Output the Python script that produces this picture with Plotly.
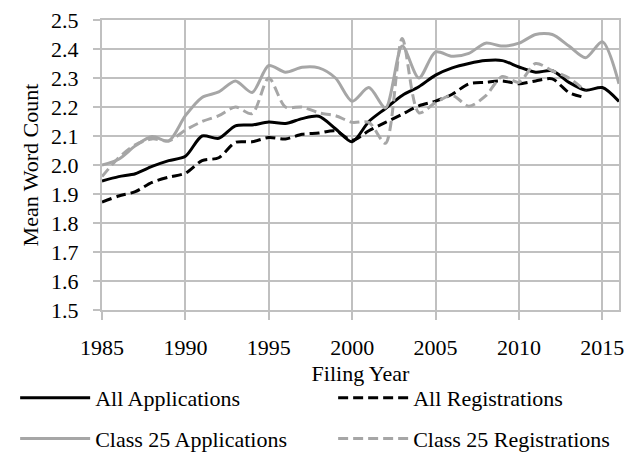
import plotly.graph_objects as go

years_all = list(range(1985, 2017))
years_reg = list(range(1985, 2015))

all_app = [1.945, 1.960, 1.970, 1.995, 2.015, 2.030, 2.100, 2.092, 2.135, 2.138,
           2.148, 2.143, 2.160, 2.168, 2.125, 2.080, 2.150, 2.195, 2.240, 2.270,
           2.310, 2.335, 2.350, 2.360, 2.360, 2.338, 2.320, 2.325, 2.285, 2.258,
           2.267, 2.219]
all_reg = [1.872, 1.893, 1.908, 1.940, 1.958, 1.972, 2.015, 2.025, 2.078, 2.080,
           2.095, 2.090, 2.106, 2.110, 2.118, 2.085, 2.118, 2.147, 2.175, 2.204,
           2.220, 2.244, 2.280, 2.285, 2.290, 2.280, 2.290, 2.297, 2.250, 2.232]
c25_app = [2.000, 2.020, 2.066, 2.098, 2.083, 2.170, 2.233, 2.252, 2.290, 2.250,
           2.343, 2.320, 2.337, 2.335, 2.300, 2.220, 2.267, 2.197, 2.410, 2.300,
           2.390, 2.375, 2.385, 2.420, 2.410, 2.420, 2.450, 2.450, 2.410, 2.370,
           2.425, 2.280]
c25_reg = [1.960, 2.025, 2.070, 2.090, 2.083, 2.120, 2.150, 2.170, 2.200, 2.177,
           2.300, 2.200, 2.200, 2.180, 2.170, 2.147, 2.147, 2.075, 2.436, 2.180,
           2.215, 2.240, 2.203, 2.238, 2.305, 2.285, 2.350, 2.325, 2.300, 2.255]

names = ["All Applications", "All Registrations",
         "Class 25 Applications", "Class 25 Registrations"]
x_ticks = [1985, 1990, 1995, 2000, 2005, 2010, 2015]

FONT = "Liberation Serif"
FS = 22
BLACK = "#000000"
GRAY = "#A6A6A6"
GRID = "#C0C0C0"
DASH = "10px,5px"

fig = go.Figure()
series = [
    (years_all, all_app, names[0], BLACK, "solid", "legend", 233),
    (years_reg, all_reg, names[1], BLACK, DASH, "legend", 205),
    (years_all, c25_app, names[2], GRAY, "solid", "legend2", 233),
    (years_reg, c25_reg, names[3], GRAY, DASH, "legend2", 205),
]
for xs, ys, nm, col, dash, lg, lw in series:
    fig.add_trace(go.Scatter(
        x=xs, y=ys, name=nm, mode="lines", legend=lg, legendwidth=lw,
        line=dict(color=col, width=3, dash=dash, shape="spline", smoothing=0.8),
    ))

tfont = dict(family=FONT, size=FS, color="#000")
common_legend = dict(orientation="h", xanchor="left", yanchor="middle",
                     font=tfont, itemwidth=70, entrywidthmode="pixels",
                     bgcolor="rgba(0,0,0,0)", borderwidth=0, itemclick=False)

fig.update_layout(
    width=640, height=453,
    margin=dict(l=94, r=29, t=12, b=151, autoexpand=False),
    paper_bgcolor="white", plot_bgcolor="white",
    font=tfont,
    legend=dict(x=-0.168, y=-0.303, **common_legend),
    legend2=dict(x=-0.168, y=-0.444, **common_legend),
    xaxis=dict(
        range=[1985, 2016], tickvals=x_ticks, ticktext=[str(v) for v in x_ticks],
        showgrid=True, gridcolor=GRID, gridwidth=2,
        showline=True, linecolor=GRID, linewidth=2, mirror=True,
        ticks="outside", ticklen=8, tickcolor=GRID, tickwidth=2,
        ticklabelstandoff=9, ticklabeloverflow="allow",
        tickfont=tfont,
        title=dict(text="Filing Year", font=tfont, standoff=6),
        zeroline=False, automargin=False,
    ),
    yaxis=dict(
        range=[1.5, 2.5], dtick=0.1, tick0=1.5, tickformat=".1f",
        showgrid=True, gridcolor=GRID, gridwidth=2,
        showline=True, linecolor=GRID, linewidth=2, mirror=True,
        ticks="outside", ticklen=7, tickcolor=GRID, tickwidth=2,
        ticklabelstandoff=10, ticklabeloverflow="allow",
        tickfont=tfont,
        title=dict(text="Mean Word Count", font=tfont, standoff=6),
        zeroline=False, automargin=False,
    ),
)

fig.write_html("out.html")
